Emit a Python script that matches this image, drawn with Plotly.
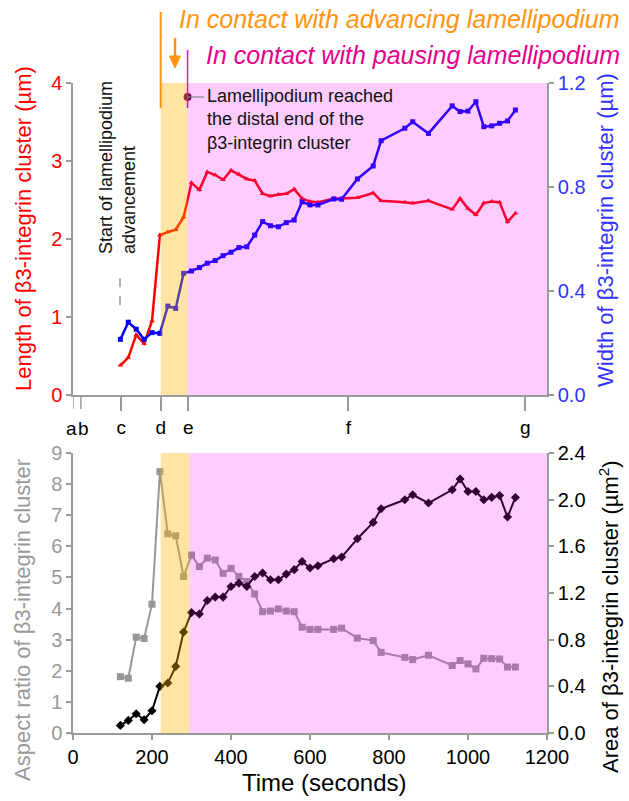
import plotly.graph_objects as go

# ---------------- data ----------------
time_s = [120, 140, 160, 180, 200, 220, 240, 260, 280, 300, 320, 340, 360, 380, 400,
          420, 440, 460, 480, 500, 520, 540, 560, 580, 600, 620, 660, 680, 720, 760,
          780, 840, 860, 900, 960, 980, 1000, 1020, 1040, 1060, 1080, 1100, 1120]
length_um = [0.38, 0.48, 0.77, 0.66, 0.95, 2.05, 2.09, 2.12, 2.28, 2.72, 2.63, 2.86, 2.82,
             2.76, 2.88, 2.83, 2.77, 2.75, 2.58, 2.55, 2.57, 2.58, 2.64, 2.52, 2.48, 2.47,
             2.52, 2.52, 2.53, 2.59, 2.49, 2.47, 2.46, 2.49, 2.38, 2.52, 2.39, 2.31, 2.46,
             2.48, 2.47, 2.22, 2.33]
width_um = [0.214, 0.28, 0.253, 0.214, 0.24, 0.237, 0.342, 0.333, 0.468, 0.477, 0.49, 0.507,
            0.517, 0.536, 0.549, 0.567, 0.57, 0.615, 0.667, 0.651, 0.647, 0.663, 0.673, 0.743,
            0.731, 0.731, 0.754, 0.753, 0.831, 0.881, 0.978, 1.026, 1.051, 1.006, 1.112, 1.09,
            1.092, 1.128, 1.032, 1.035, 1.045, 1.054, 1.096]
aspect_ratio = [1.81, 1.76, 3.08, 3.04, 4.14, 8.40, 6.40, 6.34, 5.03, 5.72, 5.35, 5.62, 5.56,
                5.13, 5.29, 5.03, 4.87, 4.47, 3.90, 3.92, 3.99, 3.92, 3.90, 3.40, 3.33, 3.33,
                3.33, 3.37, 3.05, 2.97, 2.59, 2.43, 2.36, 2.50, 2.17, 2.33, 2.22, 2.06, 2.40,
                2.39, 2.38, 2.12, 2.12]
area_um2 = [0.065, 0.108, 0.165, 0.114, 0.191, 0.40, 0.428, 0.571, 0.865, 1.033, 1.02, 1.136,
            1.165, 1.165, 1.256, 1.285, 1.256, 1.342, 1.371, 1.314, 1.314, 1.362, 1.40, 1.47,
            1.414, 1.434, 1.494, 1.508, 1.665, 1.805, 1.922, 1.999, 2.042, 1.971, 2.085, 2.177,
            2.07, 2.07, 1.999, 2.02, 2.036, 1.851, 2.019]

frame_labels = ["a", "b", "c", "d", "e", "f", "g"]
frame_times = [0, 20, 122, 222, 292, 697, 1145]

advancing_start = 222
pausing_start_top = 290
pausing_start_bottom = 295
time_end = 1200
lamellipodium_start_time = 119
reached_time = 290
reached_length = 3.82

# ---------------- layout helpers ----------------
W, H = 629, 801
ML, MR, MT, MB = 73, 82, 83, 68
PW, PH = W - ML - MR, H - MT - MB


def px(xp):
    return (xp - ML) / PW


def py(yp):
    return (H - MB - yp) / PH


def pt(xp):
    # pixel column -> time value on the shared time axis
    return (xp - ML) / PW * time_end


FONT = "Liberation Sans, Arial, sans-serif"
ORANGE = "#FF9410"
MAGENTA = "#E6008C"
AXIS_GRAY = "#9a9a9a"


def f(size, color="black", style="normal"):
    return dict(size=size, color=color, family=FONT, style=style)


fig = go.Figure()

fig.add_trace(go.Scatter(x=time_s, y=length_um, mode="lines+markers", xaxis="x", yaxis="y",
                         line=dict(color="#FF0000", width=2.5),
                         marker=dict(symbol="triangle-up", size=5, color="#FF0000"),
                         showlegend=False))
fig.add_trace(go.Scatter(x=time_s, y=width_um, mode="lines+markers", xaxis="x", yaxis="y2",
                         line=dict(color="#0000FF", width=2.5),
                         marker=dict(symbol="square", size=5, color="#0000FF"),
                         showlegend=False))
fig.add_trace(go.Scatter(x=[reached_time], y=[reached_length], mode="markers", xaxis="x",
                         yaxis="y", marker=dict(size=8, color="#2a0a2a"), cliponaxis=False,
                         showlegend=False))
fig.add_trace(go.Scatter(x=time_s, y=aspect_ratio, mode="lines+markers", xaxis="x2", yaxis="y3",
                         line=dict(color="#969696", width=2),
                         marker=dict(symbol="square", size=7, color="#969696"),
                         showlegend=False))
fig.add_trace(go.Scatter(x=time_s, y=area_um2, mode="lines+markers", xaxis="x2", yaxis="y4",
                         line=dict(color="#000000", width=2),
                         marker=dict(symbol="diamond", size=7, color="#000000"),
                         showlegend=False))

top_dom = [py(395), 1.0]
bot_dom = [0.0, py(453)]

common_axis = dict(showline=True, linecolor=AXIS_GRAY, linewidth=1.5, ticks="outside",
                   tickcolor=AXIS_GRAY, tickwidth=1.5, showgrid=False, zeroline=False,
                   tickangle=0)

fig.update_layout(
    width=W, height=H,
    margin=dict(l=ML, r=MR, t=MT, b=MB),
    paper_bgcolor="white", plot_bgcolor="white",
    font=f(20),
    xaxis=dict(domain=[0, 1], anchor="y", range=[0, time_end], tickmode="array",
               tickvals=frame_times[2:], ticktext=frame_labels[2:], ticklen=14,
               tickfont=f(19), **common_axis),
    yaxis=dict(domain=top_dom, anchor="x", range=[0, 4], tickvals=[0, 1, 2, 3, 4],
               ticklen=5, tickfont=f(20, "#FF0000"), **common_axis),
    yaxis2=dict(overlaying="y", anchor="x", side="right", range=[0, 1.2],
                tickvals=[0, 0.4, 0.8, 1.2], ticktext=["0.0", "0.4", "0.8", "1.2"],
                ticklen=5, tickfont=f(20, "#3333FF"), **common_axis),
    xaxis2=dict(domain=[0, 1], anchor="y3", range=[0, time_end], dtick=200, tick0=0,
                ticklen=5, tickfont=f(20), **common_axis),
    yaxis3=dict(domain=bot_dom, anchor="x2", range=[0, 9], dtick=1, tick0=0, ticklen=5,
                tickfont=f(20, "#999999"), **common_axis),
    yaxis4=dict(overlaying="y3", anchor="x2", side="right", range=[0, 2.4],
                tickvals=[0, 0.4, 0.8, 1.2, 1.6, 2.0, 2.4], tickformat=".1f", ticklen=5,
                tickfont=f(20), **common_axis),
)

ax_x = pt(175)
shapes = [
    # phase bands, top chart
    dict(type="rect", xref="x", yref="y", x0=advancing_start, x1=pausing_start_top, y0=0, y1=4,
         fillcolor="rgba(255,180,0,0.36)", line=dict(width=0), layer="above"),
    dict(type="rect", xref="x", yref="y", x0=pausing_start_top, x1=time_end, y0=0, y1=4,
         fillcolor="rgba(255,0,255,0.2)", line=dict(width=0), layer="above"),
    # phase bands, bottom chart
    dict(type="rect", xref="x2", yref="y3", x0=advancing_start, x1=pausing_start_bottom, y0=0, y1=9,
         fillcolor="rgba(255,180,0,0.36)", line=dict(width=0), layer="above"),
    dict(type="rect", xref="x2", yref="y3", x0=pausing_start_bottom, x1=time_end, y0=0, y1=9,
         fillcolor="rgba(255,0,255,0.2)", line=dict(width=0), layer="above"),
    # orange marker line
    dict(type="line", xref="x", yref="paper", x0=advancing_start, x1=advancing_start,
         y0=py(108), y1=py(12), line=dict(color=ORANGE, width=2)),
    # orange down arrow (shaft + head)
    dict(type="line", xref="x", yref="paper", x0=ax_x, x1=ax_x, y0=py(38), y1=py(58),
         line=dict(color=ORANGE, width=2.5)),
    dict(type="path", xref="x", yref="paper",
         path=f"M {pt(169.5)},{py(56)} L {pt(180.5)},{py(56)} L {ax_x},{py(68)} Z",
         fillcolor=ORANGE, line=dict(color=ORANGE, width=1)),
    # magenta marker line
    dict(type="line", xref="x", yref="paper", x0=reached_time, x1=reached_time,
         y0=py(108), y1=py(50), line=dict(color="#E800E8", width=1.5)),
    # connector to text
    dict(type="line", xref="x", yref="y", x0=reached_time, x1=reached_time + 42,
         y0=reached_length, y1=reached_length, line=dict(color="#888888", width=1.2)),
    # dashed start line
    dict(type="line", xref="x", yref="y", x0=lamellipodium_start_time,
         x1=lamellipodium_start_time, y0=1.15, y1=1.58,
         line=dict(color="#999999", width=1.5, dash="dash")),
]
# tick marks for the two crowded frames a and b (labels placed as annotations)
for ft in frame_times[:2]:
    shapes.append(dict(type="line", xref="x", yref="paper", x0=ft, x1=ft,
                       y0=py(395), y1=py(409), line=dict(color=AXIS_GRAY, width=1.5)))
fig.update_layout(shapes=shapes)

ann = []
# frame labels a and b
ann.append(dict(text=frame_labels[0], xref="paper", yref="paper", x=px(71), y=py(428),
                xanchor="center", yanchor="middle", showarrow=False, font=f(19)))
ann.append(dict(text=frame_labels[1], xref="paper", yref="paper", x=px(83), y=py(428),
                xanchor="center", yanchor="middle", showarrow=False, font=f(19)))
ann.append(dict(text="In contact with advancing lamellipodium", xref="paper", yref="paper",
                x=px(177), y=py(19), xanchor="left", yanchor="middle", showarrow=False,
                font=f(25, ORANGE, "italic")))
ann.append(dict(text="In contact with pausing lamellipodium", xref="paper", yref="paper",
                x=px(204), y=py(55), xanchor="left", yanchor="middle", showarrow=False,
                font=f(25, MAGENTA, "italic")))
ann.append(dict(text="Lamellipodium reached<br>the distal end of the<br>β3-integrin cluster",
                xref="paper", yref="paper", x=px(205), y=py(84), xanchor="left", yanchor="top",
                align="left", showarrow=False, font=f(18, "#111111")))
ann.append(dict(text="Start of lamellipodium<br>advancement", xref="paper", yref="paper",
                x=px(117), y=py(168), xanchor="center", yanchor="middle", textangle=-90,
                align="left", showarrow=False, font=f(18, "#111111")))
# axis titles
ann.append(dict(text="Length of β3-integrin cluster (µm)", xref="paper", yref="paper",
                x=px(23), y=py(229), xanchor="center", yanchor="middle", textangle=-90,
                showarrow=False, font=f(22, "#FF0000")))
ann.append(dict(text="Width of β3-integrin cluster (µm)", xref="paper", yref="paper",
                x=px(605), y=py(230), xanchor="center", yanchor="middle", textangle=-90,
                showarrow=False, font=f(22, "#3333FF")))
ann.append(dict(text="Aspect ratio of β3-integrin cluster", xref="paper", yref="paper",
                x=px(22), y=py(620), xanchor="center", yanchor="middle", textangle=-90,
                showarrow=False, font=f(22, "#999999")))
ann.append(dict(text="Area of β3-integrin cluster (µm<sup>2</sup>)", xref="paper", yref="paper",
                x=px(609), y=py(617), xanchor="center", yanchor="middle", textangle=-90,
                showarrow=False, font=f(22)))
ann.append(dict(text="Time (seconds)", xref="paper", yref="paper",
                x=px(324), y=py(782), xanchor="center", yanchor="middle",
                showarrow=False, font=f(24)))
fig.update_layout(annotations=ann)

fig.write_html("out.html")
